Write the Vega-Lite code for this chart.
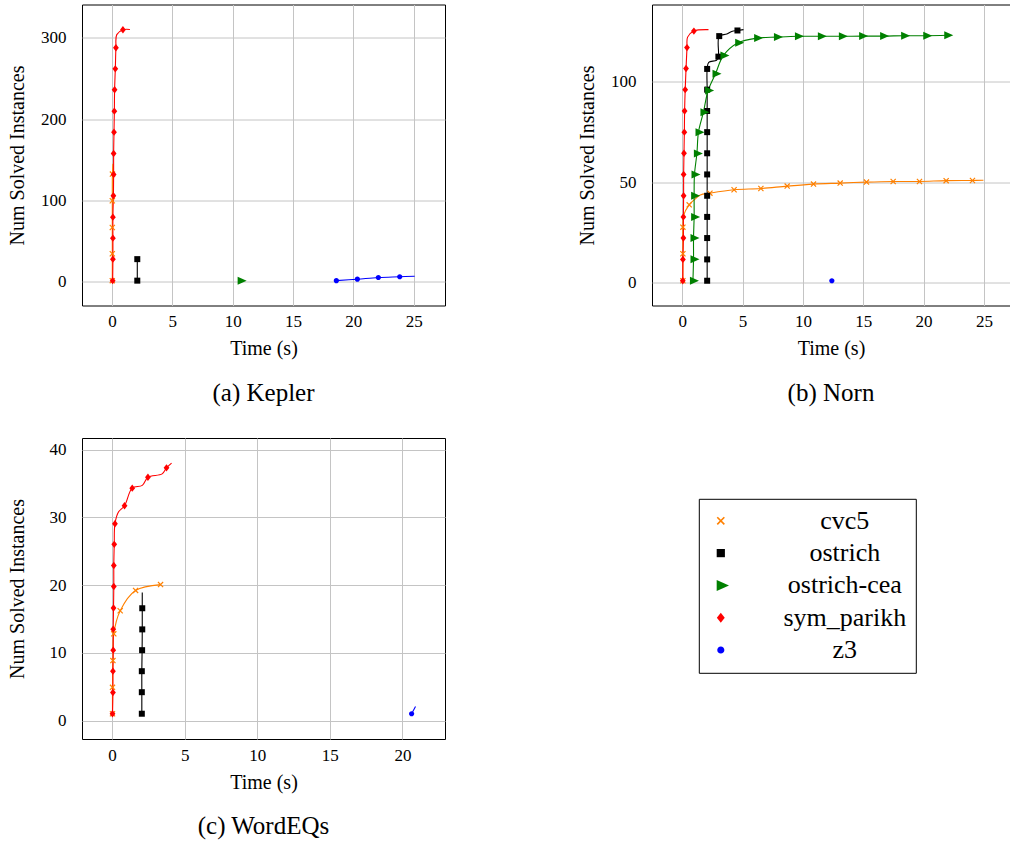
{
  "$schema": "https://vega.github.io/schema/vega-lite/v6.json",
  "padding": {"left": 7, "top": 3.5, "right": 0, "bottom": 0},
  "autosize": {"type": "pad"},
  "datasets": {
    "lines": [
      {"panel":"a","solver":"cvc5","time":0.03,"solved":1},{"panel":"a","solver":"cvc5","time":0.03,"solved":34.1},{"panel":"a","solver":"cvc5","time":0.03,"solved":66.5},{"panel":"a","solver":"cvc5","time":0.03,"solved":99.4},{"panel":"a","solver":"cvc5","time":0.04,"solved":132.2},{"panel":"a","solver":"cvc5","time":0.08,"solved":145},
      {"panel":"a","solver":"ostrich","time":2.1,"solved":1},{"panel":"a","solver":"ostrich","time":2.1,"solved":27.5},
      {"panel":"a","solver":"sym_parikh","time":0.06,"solved":1},{"panel":"a","solver":"sym_parikh","time":0.08,"solved":27.5},{"panel":"a","solver":"sym_parikh","time":0.08,"solved":53.3},{"panel":"a","solver":"sym_parikh","time":0.08,"solved":79.2},{"panel":"a","solver":"sym_parikh","time":0.12,"solved":105.5},{"panel":"a","solver":"sym_parikh","time":0.14,"solved":131.8},{"panel":"a","solver":"sym_parikh","time":0.14,"solved":157.6},{"panel":"a","solver":"sym_parikh","time":0.17,"solved":183.9},{"panel":"a","solver":"sym_parikh","time":0.2,"solved":209.7},{"panel":"a","solver":"sym_parikh","time":0.22,"solved":236.1},{"panel":"a","solver":"sym_parikh","time":0.28,"solved":261.9},{"panel":"a","solver":"sym_parikh","time":0.33,"solved":287.8},{"panel":"a","solver":"sym_parikh","time":0.4,"solved":304},{"panel":"a","solver":"sym_parikh","time":0.91,"solved":310},{"panel":"a","solver":"sym_parikh","time":1.49,"solved":310.3},
      {"panel":"a","solver":"z3","time":18.59,"solved":1},{"panel":"a","solver":"z3","time":20.33,"solved":2.8},{"panel":"a","solver":"z3","time":22.07,"solved":4.9},{"panel":"a","solver":"z3","time":23.84,"solved":5.8},{"panel":"a","solver":"z3","time":25.08,"solved":6.5},
      {"panel":"b","solver":"cvc5","time":0.06,"solved":1},{"panel":"b","solver":"cvc5","time":0.06,"solved":14.4},{"panel":"b","solver":"cvc5","time":0.06,"solved":27.6},{"panel":"b","solver":"cvc5","time":0.12,"solved":33.5},{"panel":"b","solver":"cvc5","time":0.58,"solved":38.7},{"panel":"b","solver":"cvc5","time":1.0,"solved":41.2},{"panel":"b","solver":"cvc5","time":1.5,"solved":43.6},{"panel":"b","solver":"cvc5","time":2.3,"solved":44.5},{"panel":"b","solver":"cvc5","time":4.3,"solved":46.2},{"panel":"b","solver":"cvc5","time":6.52,"solved":46.8},{"panel":"b","solver":"cvc5","time":8.7,"solved":48},{"panel":"b","solver":"cvc5","time":10.88,"solved":49},{"panel":"b","solver":"cvc5","time":13.09,"solved":49.5},{"panel":"b","solver":"cvc5","time":15.27,"solved":50},{"panel":"b","solver":"cvc5","time":17.48,"solved":50.3},{"panel":"b","solver":"cvc5","time":19.66,"solved":50.3},{"panel":"b","solver":"cvc5","time":21.87,"solved":50.7},{"panel":"b","solver":"cvc5","time":24.05,"solved":50.8},{"panel":"b","solver":"cvc5","time":24.96,"solved":50.9},
      {"panel":"b","solver":"ostrich","time":2.07,"solved":1},{"panel":"b","solver":"ostrich","time":2.07,"solved":11.6},{"panel":"b","solver":"ostrich","time":2.07,"solved":22.2},{"panel":"b","solver":"ostrich","time":2.07,"solved":32.7},{"panel":"b","solver":"ostrich","time":2.07,"solved":43.2},{"panel":"b","solver":"ostrich","time":2.07,"solved":53.8},{"panel":"b","solver":"ostrich","time":2.07,"solved":64.3},{"panel":"b","solver":"ostrich","time":2.07,"solved":74.8},{"panel":"b","solver":"ostrich","time":2.07,"solved":85.3},{"panel":"b","solver":"ostrich","time":2.07,"solved":95.9},{"panel":"b","solver":"ostrich","time":2.07,"solved":106.2},{"panel":"b","solver":"ostrich","time":2.2,"solved":109.5},{"panel":"b","solver":"ostrich","time":2.85,"solved":110.5},{"panel":"b","solver":"ostrich","time":3.0,"solved":112.3},{"panel":"b","solver":"ostrich","time":3.07,"solved":122.5},{"panel":"b","solver":"ostrich","time":3.7,"solved":123.5},{"panel":"b","solver":"ostrich","time":4.1,"solved":124.8},{"panel":"b","solver":"ostrich","time":4.58,"solved":125.3},{"panel":"b","solver":"ostrich","time":5.08,"solved":125.7},
      {"panel":"b","solver":"ostrich-cea","time":0.89,"solved":1},{"panel":"b","solver":"ostrich-cea","time":0.94,"solved":11.7},{"panel":"b","solver":"ostrich-cea","time":0.94,"solved":22.2},{"panel":"b","solver":"ostrich-cea","time":0.99,"solved":32.6},{"panel":"b","solver":"ostrich-cea","time":0.99,"solved":43.2},{"panel":"b","solver":"ostrich-cea","time":1.02,"solved":53.8},{"panel":"b","solver":"ostrich-cea","time":1.22,"solved":64.2},{"panel":"b","solver":"ostrich-cea","time":1.35,"solved":74.8},{"panel":"b","solver":"ostrich-cea","time":1.76,"solved":84.7},{"panel":"b","solver":"ostrich-cea","time":2.15,"solved":95.5},{"panel":"b","solver":"ostrich-cea","time":2.76,"solved":103.8},{"panel":"b","solver":"ostrich-cea","time":3.42,"solved":112.9},{"panel":"b","solver":"ostrich-cea","time":4.64,"solved":119.2},{"panel":"b","solver":"ostrich-cea","time":6.21,"solved":121.5},{"panel":"b","solver":"ostrich-cea","time":7.85,"solved":122},{"panel":"b","solver":"ostrich-cea","time":9.59,"solved":122.4},{"panel":"b","solver":"ostrich-cea","time":11.49,"solved":122.4},{"panel":"b","solver":"ostrich-cea","time":13.23,"solved":122.4},{"panel":"b","solver":"ostrich-cea","time":14.91,"solved":122.5},{"panel":"b","solver":"ostrich-cea","time":16.65,"solved":122.5},{"panel":"b","solver":"ostrich-cea","time":18.39,"solved":122.7},{"panel":"b","solver":"ostrich-cea","time":20.22,"solved":122.7},{"panel":"b","solver":"ostrich-cea","time":21.96,"solved":122.9},
      {"panel":"b","solver":"sym_parikh","time":0.05,"solved":1},{"panel":"b","solver":"sym_parikh","time":0.06,"solved":11.6},{"panel":"b","solver":"sym_parikh","time":0.1,"solved":22.2},{"panel":"b","solver":"sym_parikh","time":0.1,"solved":32.7},{"panel":"b","solver":"sym_parikh","time":0.12,"solved":43.2},{"panel":"b","solver":"sym_parikh","time":0.12,"solved":53.8},{"panel":"b","solver":"sym_parikh","time":0.15,"solved":64.3},{"panel":"b","solver":"sym_parikh","time":0.18,"solved":74.8},{"panel":"b","solver":"sym_parikh","time":0.2,"solved":85.3},{"panel":"b","solver":"sym_parikh","time":0.25,"solved":95.9},{"panel":"b","solver":"sym_parikh","time":0.32,"solved":106.4},{"panel":"b","solver":"sym_parikh","time":0.4,"solved":116.8},{"panel":"b","solver":"sym_parikh","time":0.45,"solved":122},{"panel":"b","solver":"sym_parikh","time":0.97,"solved":125},{"panel":"b","solver":"sym_parikh","time":2.18,"solved":125.7},
      {"panel":"c","solver":"cvc5","time":0.03,"solved":1},{"panel":"c","solver":"cvc5","time":0.03,"solved":4.9},{"panel":"c","solver":"cvc5","time":0.06,"solved":8.85},{"panel":"c","solver":"cvc5","time":0.12,"solved":12.8},{"panel":"c","solver":"cvc5","time":0.56,"solved":16.2},{"panel":"c","solver":"cvc5","time":1.62,"solved":19.2},{"panel":"c","solver":"cvc5","time":3.34,"solved":20.06},
      {"panel":"c","solver":"ostrich","time":2.05,"solved":1},{"panel":"c","solver":"ostrich","time":2.05,"solved":4.18},{"panel":"c","solver":"ostrich","time":2.05,"solved":7.28},{"panel":"c","solver":"ostrich","time":2.07,"solved":10.38},{"panel":"c","solver":"ostrich","time":2.08,"solved":13.45},{"panel":"c","solver":"ostrich","time":2.08,"solved":16.57},{"panel":"c","solver":"ostrich","time":2.08,"solved":18.9},
      {"panel":"c","solver":"sym_parikh","time":0.03,"solved":1},{"panel":"c","solver":"sym_parikh","time":0.06,"solved":4.13},{"panel":"c","solver":"sym_parikh","time":0.06,"solved":7.28},{"panel":"c","solver":"sym_parikh","time":0.08,"solved":10.38},{"panel":"c","solver":"sym_parikh","time":0.08,"solved":13.48},{"panel":"c","solver":"sym_parikh","time":0.1,"solved":16.6},{"panel":"c","solver":"sym_parikh","time":0.12,"solved":19.78},{"panel":"c","solver":"sym_parikh","time":0.12,"solved":22.88},{"panel":"c","solver":"sym_parikh","time":0.15,"solved":26},{"panel":"c","solver":"sym_parikh","time":0.2,"solved":29.05},{"panel":"c","solver":"sym_parikh","time":0.45,"solved":30.8},{"panel":"c","solver":"sym_parikh","time":0.86,"solved":31.7},{"panel":"c","solver":"sym_parikh","time":1.39,"solved":34.3},{"panel":"c","solver":"sym_parikh","time":2.08,"solved":34.7},{"panel":"c","solver":"sym_parikh","time":2.47,"solved":35.9},{"panel":"c","solver":"sym_parikh","time":3.45,"solved":36.4},{"panel":"c","solver":"sym_parikh","time":3.75,"solved":37.3},{"panel":"c","solver":"sym_parikh","time":4.1,"solved":38},
      {"panel":"c","solver":"z3","time":20.63,"solved":1},{"panel":"c","solver":"z3","time":20.9,"solved":2.07}
    ],
    "marks": [
      {"panel":"a","solver":"cvc5","time":0.03,"solved":1},{"panel":"a","solver":"cvc5","time":0.03,"solved":34.1},{"panel":"a","solver":"cvc5","time":0.03,"solved":66.5},{"panel":"a","solver":"cvc5","time":0.03,"solved":99.4},{"panel":"a","solver":"cvc5","time":0.04,"solved":132.2},
      {"panel":"a","solver":"ostrich","time":2.1,"solved":1},{"panel":"a","solver":"ostrich","time":2.1,"solved":27.5},
      {"panel":"a","solver":"ostrich-cea","time":10.66,"solved":1},
      {"panel":"a","solver":"sym_parikh","time":0.06,"solved":1},{"panel":"a","solver":"sym_parikh","time":0.08,"solved":27.5},{"panel":"a","solver":"sym_parikh","time":0.08,"solved":53.3},{"panel":"a","solver":"sym_parikh","time":0.08,"solved":79.2},{"panel":"a","solver":"sym_parikh","time":0.12,"solved":105.5},{"panel":"a","solver":"sym_parikh","time":0.14,"solved":131.8},{"panel":"a","solver":"sym_parikh","time":0.14,"solved":157.6},{"panel":"a","solver":"sym_parikh","time":0.17,"solved":183.9},{"panel":"a","solver":"sym_parikh","time":0.2,"solved":209.7},{"panel":"a","solver":"sym_parikh","time":0.22,"solved":236.1},{"panel":"a","solver":"sym_parikh","time":0.28,"solved":261.9},{"panel":"a","solver":"sym_parikh","time":0.33,"solved":287.8},{"panel":"a","solver":"sym_parikh","time":0.91,"solved":310},
      {"panel":"a","solver":"z3","time":18.59,"solved":1},{"panel":"a","solver":"z3","time":20.33,"solved":2.8},{"panel":"a","solver":"z3","time":22.07,"solved":4.9},{"panel":"a","solver":"z3","time":23.84,"solved":5.8},
      {"panel":"b","solver":"cvc5","time":0.06,"solved":1},{"panel":"b","solver":"cvc5","time":0.06,"solved":14.4},{"panel":"b","solver":"cvc5","time":0.06,"solved":27.6},{"panel":"b","solver":"cvc5","time":0.58,"solved":38.7},{"panel":"b","solver":"cvc5","time":2.3,"solved":44.5},{"panel":"b","solver":"cvc5","time":4.3,"solved":46.2},{"panel":"b","solver":"cvc5","time":6.52,"solved":46.8},{"panel":"b","solver":"cvc5","time":8.7,"solved":48},{"panel":"b","solver":"cvc5","time":10.88,"solved":49},{"panel":"b","solver":"cvc5","time":13.09,"solved":49.5},{"panel":"b","solver":"cvc5","time":15.27,"solved":50},{"panel":"b","solver":"cvc5","time":17.48,"solved":50.3},{"panel":"b","solver":"cvc5","time":19.66,"solved":50.3},{"panel":"b","solver":"cvc5","time":21.87,"solved":50.7},{"panel":"b","solver":"cvc5","time":24.05,"solved":50.8},
      {"panel":"b","solver":"ostrich","time":2.07,"solved":1},{"panel":"b","solver":"ostrich","time":2.07,"solved":11.6},{"panel":"b","solver":"ostrich","time":2.07,"solved":22.2},{"panel":"b","solver":"ostrich","time":2.07,"solved":32.7},{"panel":"b","solver":"ostrich","time":2.07,"solved":43.2},{"panel":"b","solver":"ostrich","time":2.07,"solved":53.8},{"panel":"b","solver":"ostrich","time":2.07,"solved":64.3},{"panel":"b","solver":"ostrich","time":2.07,"solved":74.8},{"panel":"b","solver":"ostrich","time":2.07,"solved":85.3},{"panel":"b","solver":"ostrich","time":2.07,"solved":95.9},{"panel":"b","solver":"ostrich","time":2.07,"solved":106.2},{"panel":"b","solver":"ostrich","time":3.0,"solved":112.3},{"panel":"b","solver":"ostrich","time":3.07,"solved":122.5},{"panel":"b","solver":"ostrich","time":4.58,"solved":125.3},
      {"panel":"b","solver":"ostrich-cea","time":0.89,"solved":1},{"panel":"b","solver":"ostrich-cea","time":0.94,"solved":11.7},{"panel":"b","solver":"ostrich-cea","time":0.94,"solved":22.2},{"panel":"b","solver":"ostrich-cea","time":0.99,"solved":32.6},{"panel":"b","solver":"ostrich-cea","time":0.99,"solved":43.2},{"panel":"b","solver":"ostrich-cea","time":1.02,"solved":53.8},{"panel":"b","solver":"ostrich-cea","time":1.22,"solved":64.2},{"panel":"b","solver":"ostrich-cea","time":1.35,"solved":74.8},{"panel":"b","solver":"ostrich-cea","time":1.76,"solved":84.7},{"panel":"b","solver":"ostrich-cea","time":2.15,"solved":95.5},{"panel":"b","solver":"ostrich-cea","time":2.76,"solved":103.8},{"panel":"b","solver":"ostrich-cea","time":3.42,"solved":112.9},{"panel":"b","solver":"ostrich-cea","time":4.64,"solved":119.2},{"panel":"b","solver":"ostrich-cea","time":6.21,"solved":121.5},{"panel":"b","solver":"ostrich-cea","time":7.85,"solved":122},{"panel":"b","solver":"ostrich-cea","time":9.59,"solved":122.4},{"panel":"b","solver":"ostrich-cea","time":11.49,"solved":122.4},{"panel":"b","solver":"ostrich-cea","time":13.23,"solved":122.4},{"panel":"b","solver":"ostrich-cea","time":14.91,"solved":122.5},{"panel":"b","solver":"ostrich-cea","time":16.65,"solved":122.5},{"panel":"b","solver":"ostrich-cea","time":18.39,"solved":122.7},{"panel":"b","solver":"ostrich-cea","time":20.22,"solved":122.7},{"panel":"b","solver":"ostrich-cea","time":21.96,"solved":122.9},
      {"panel":"b","solver":"sym_parikh","time":0.05,"solved":1},{"panel":"b","solver":"sym_parikh","time":0.06,"solved":11.6},{"panel":"b","solver":"sym_parikh","time":0.1,"solved":22.2},{"panel":"b","solver":"sym_parikh","time":0.1,"solved":32.7},{"panel":"b","solver":"sym_parikh","time":0.12,"solved":43.2},{"panel":"b","solver":"sym_parikh","time":0.12,"solved":53.8},{"panel":"b","solver":"sym_parikh","time":0.15,"solved":64.3},{"panel":"b","solver":"sym_parikh","time":0.18,"solved":74.8},{"panel":"b","solver":"sym_parikh","time":0.2,"solved":85.3},{"panel":"b","solver":"sym_parikh","time":0.25,"solved":95.9},{"panel":"b","solver":"sym_parikh","time":0.32,"solved":106.4},{"panel":"b","solver":"sym_parikh","time":0.4,"solved":116.8},{"panel":"b","solver":"sym_parikh","time":0.97,"solved":125},
      {"panel":"b","solver":"z3","time":12.4,"solved":1},
      {"panel":"c","solver":"cvc5","time":0.03,"solved":1},{"panel":"c","solver":"cvc5","time":0.03,"solved":4.9},{"panel":"c","solver":"cvc5","time":0.06,"solved":8.85},{"panel":"c","solver":"cvc5","time":0.12,"solved":12.8},{"panel":"c","solver":"cvc5","time":0.56,"solved":16.2},{"panel":"c","solver":"cvc5","time":1.62,"solved":19.2},{"panel":"c","solver":"cvc5","time":3.34,"solved":20.06},
      {"panel":"c","solver":"ostrich","time":2.05,"solved":1},{"panel":"c","solver":"ostrich","time":2.05,"solved":4.18},{"panel":"c","solver":"ostrich","time":2.05,"solved":7.28},{"panel":"c","solver":"ostrich","time":2.07,"solved":10.38},{"panel":"c","solver":"ostrich","time":2.08,"solved":13.45},{"panel":"c","solver":"ostrich","time":2.08,"solved":16.57},
      {"panel":"c","solver":"sym_parikh","time":0.03,"solved":1},{"panel":"c","solver":"sym_parikh","time":0.06,"solved":4.13},{"panel":"c","solver":"sym_parikh","time":0.06,"solved":7.28},{"panel":"c","solver":"sym_parikh","time":0.08,"solved":10.38},{"panel":"c","solver":"sym_parikh","time":0.08,"solved":13.48},{"panel":"c","solver":"sym_parikh","time":0.1,"solved":16.6},{"panel":"c","solver":"sym_parikh","time":0.12,"solved":19.78},{"panel":"c","solver":"sym_parikh","time":0.12,"solved":22.88},{"panel":"c","solver":"sym_parikh","time":0.15,"solved":26},{"panel":"c","solver":"sym_parikh","time":0.2,"solved":29.05},{"panel":"c","solver":"sym_parikh","time":0.86,"solved":31.7},{"panel":"c","solver":"sym_parikh","time":1.39,"solved":34.3},{"panel":"c","solver":"sym_parikh","time":2.47,"solved":35.9},{"panel":"c","solver":"sym_parikh","time":3.75,"solved":37.3},
      {"panel":"c","solver":"z3","time":20.63,"solved":1}
    ]
  },
  "concat": [
    {
      "width": 363, "height": 301,
      "title": {"text": "(a) Kepler"},
      "encoding": {
        "x": {"field": "time", "type": "quantitative", "scale": {"domain": [-2.48, 27.59], "nice": false, "zero": false}, "axis": {"values": [0, 5, 10, 15, 20, 25], "title": "Time (s)"}},
        "y": {"field": "solved", "type": "quantitative", "scale": {"domain": [-29.6, 341.1], "nice": false, "zero": false}, "axis": {"values": [0, 100, 200, 300], "title": "Num Solved Instances"}},
        "color": {"field": "solver", "type": "nominal",
          "scale": {"domain": ["cvc5", "ostrich", "ostrich-cea", "sym_parikh", "z3"], "range": ["#ff8000", "#000000", "#008000", "#ff0000", "#0000ff"]},
          "legend": {"title": null, "labelFont": "Liberation Serif", "labelFontSize": 26}
        }
      },
      "layer": [
        {"data": {"name": "lines"}, "transform": [{"filter": "datum.panel === 'a'"}], "mark": {"type": "line", "interpolate": "catmull-rom", "strokeWidth": 1.1}},
        {"data": {"name": "marks"}, "transform": [{"filter": "datum.panel === 'a'"}], "mark": {"type": "point", "filled": true, "size": 64, "opacity": 1, "strokeWidth": 0},
          "encoding": {"shape": {"field": "solver", "type": "nominal", "legend": null, "scale": {"domain": ["cvc5", "ostrich", "ostrich-cea", "sym_parikh", "z3"], "range": ["M-0.75,-0.54L-0.54,-0.75L0.75,0.54L0.54,0.75Z M0.54,-0.75L0.75,-0.54L-0.54,0.75L-0.75,0.54Z", "M-0.75,-0.75H0.75V0.75H-0.75Z", "M1.5,0L-0.75,1L-0.75,-1Z", "M0,-0.92L0.72,0L0,0.92L-0.72,0Z", "M-0.65,0A0.65,0.65 0 1,1 0.65,0A0.65,0.65 0 1,1 -0.65,0Z"]}}}}
      ]
    },
    {
      "width": 358, "height": 301,
      "title": {"text": "(b) Norn"},
      "encoding": {
        "x": {"field": "time", "type": "quantitative", "scale": {"domain": [-2.5, 27.16], "nice": false, "zero": false}, "axis": {"values": [0, 5, 10, 15, 20, 25], "title": "Time (s)"}},
        "y": {"field": "solved", "type": "quantitative", "scale": {"domain": [-11.3, 138.2], "nice": false, "zero": false}, "axis": {"values": [0, 50, 100], "title": "Num Solved Instances"}},
        "color": {"field": "solver", "type": "nominal",
          "scale": {"domain": ["cvc5", "ostrich", "ostrich-cea", "sym_parikh", "z3"], "range": ["#ff8000", "#000000", "#008000", "#ff0000", "#0000ff"]},
          "legend": {"title": null, "labelFont": "Liberation Serif", "labelFontSize": 26}
        }
      },
      "layer": [
        {"data": {"name": "lines"}, "transform": [{"filter": "datum.panel === 'b'"}], "mark": {"type": "line", "interpolate": "catmull-rom", "strokeWidth": 1.1}},
        {"data": {"name": "marks"}, "transform": [{"filter": "datum.panel === 'b'"}], "mark": {"type": "point", "filled": true, "size": 64, "opacity": 1, "strokeWidth": 0},
          "encoding": {"shape": {"field": "solver", "type": "nominal", "legend": null, "scale": {"domain": ["cvc5", "ostrich", "ostrich-cea", "sym_parikh", "z3"], "range": ["M-0.75,-0.54L-0.54,-0.75L0.75,0.54L0.54,0.75Z M0.54,-0.75L0.75,-0.54L-0.54,0.75L-0.75,0.54Z", "M-0.75,-0.75H0.75V0.75H-0.75Z", "M1.5,0L-0.75,1L-0.75,-1Z", "M0,-0.92L0.72,0L0,0.92L-0.72,0Z", "M-0.65,0A0.65,0.65 0 1,1 0.65,0A0.65,0.65 0 1,1 -0.65,0Z"]}}}}
      ]
    },
    {
      "width": 363, "height": 301,
      "title": {"text": "(c) WordEQs"},
      "encoding": {
        "x": {"field": "time", "type": "quantitative", "scale": {"domain": [-2.07, 22.93], "nice": false, "zero": false}, "axis": {"values": [0, 5, 10, 15, 20], "title": "Time (s)"}},
        "y": {"field": "solved", "type": "quantitative", "scale": {"domain": [-2.73, 41.7], "nice": false, "zero": false}, "axis": {"values": [0, 10, 20, 30, 40], "title": "Num Solved Instances"}},
        "color": {"field": "solver", "type": "nominal",
          "scale": {"domain": ["cvc5", "ostrich", "ostrich-cea", "sym_parikh", "z3"], "range": ["#ff8000", "#000000", "#008000", "#ff0000", "#0000ff"]},
          "legend": {"title": null, "labelFont": "Liberation Serif", "labelFontSize": 26}
        }
      },
      "layer": [
        {"data": {"name": "lines"}, "transform": [{"filter": "datum.panel === 'c'"}], "mark": {"type": "line", "interpolate": "catmull-rom", "strokeWidth": 1.1}},
        {"data": {"name": "marks"}, "transform": [{"filter": "datum.panel === 'c'"}], "mark": {"type": "point", "filled": true, "size": 64, "opacity": 1, "strokeWidth": 0},
          "encoding": {"shape": {"field": "solver", "type": "nominal", "legend": null, "scale": {"domain": ["cvc5", "ostrich", "ostrich-cea", "sym_parikh", "z3"], "range": ["M-0.75,-0.54L-0.54,-0.75L0.75,0.54L0.54,0.75Z M0.54,-0.75L0.75,-0.54L-0.54,0.75L-0.75,0.54Z", "M-0.75,-0.75H0.75V0.75H-0.75Z", "M1.5,0L-0.75,1L-0.75,-1Z", "M0,-0.92L0.72,0L0,0.92L-0.72,0Z", "M-0.65,0A0.65,0.65 0 1,1 0.65,0A0.65,0.65 0 1,1 -0.65,0Z"]}}}}
      ]
    }
  ],
  "columns": 2,
  "bounds": "flush",
  "spacing": {"row": 132.5, "column": 207},
  "resolve": {"scale": {"color": "shared", "shape": "shared"}, "legend": {"color": "shared", "shape": "shared"}},
  "config": {
    "font": "Liberation Serif",
    "view": {"stroke": "#000000", "strokeWidth": 1},
    "axis": {"grid": true, "gridColor": "#c4c4c4", "gridWidth": 1, "domain": false, "ticks": false, "labelFont": "Liberation Serif", "labelFontSize": 17, "labelColor": "#000000", "titleFont": "Liberation Serif", "titleFontSize": 20, "titleFontWeight": "normal", "titleColor": "#000000", "labelOverlap": false, "labelFlush": false},
    "axisX": {"labelPadding": 8, "titlePadding": 9},
    "axisY": {"labelPadding": 16, "titleX": -64.5, "titleBaseline": "middle"},
    "legend": {"orient": "none", "legendX": 616.8, "legendY": 494.3, "direction": "vertical", "strokeColor": "#000000", "fillColor": "#ffffff", "padding": 9, "cornerRadius": 0, "labelFont": "Liberation Serif", "labelFontSize": 26, "labelColor": "#000000", "labelAlign": "center", "labelBaseline": "middle", "labelOffset": 111, "labelLimit": 300, "rowPadding": 6.3, "symbolSize": 120, "symbolOffset": 0, "symbolStrokeWidth": 0},
    "title": {"font": "Liberation Serif", "fontSize": 25, "fontWeight": "normal", "color": "#000000", "orient": "bottom", "anchor": "middle", "offset": 22}
  }
}
